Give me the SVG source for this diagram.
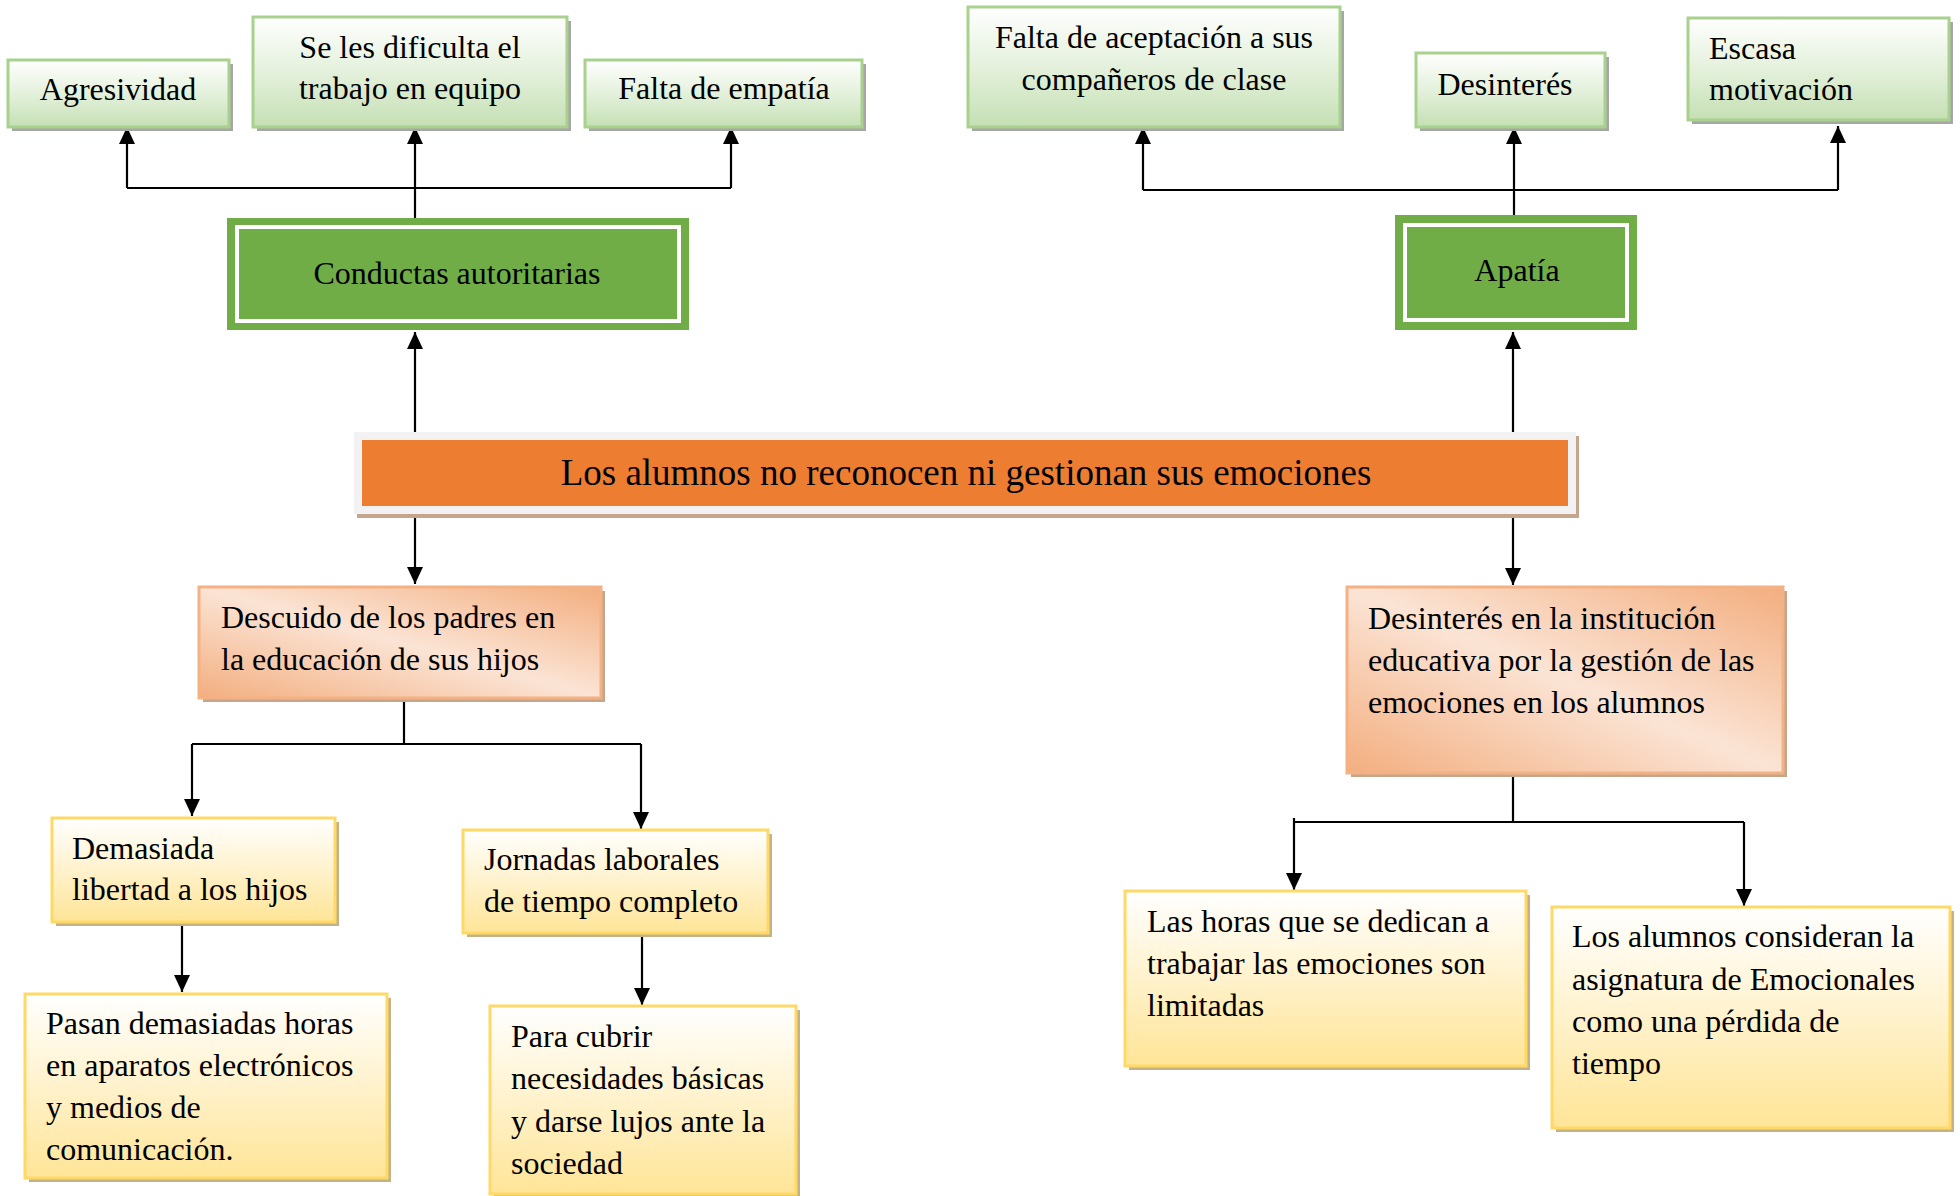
<svg xmlns="http://www.w3.org/2000/svg" width="1960" height="1196" viewBox="0 0 1960 1196">
<defs>
<linearGradient id="gGreen" x1="0" y1="0" x2="0" y2="1">
<stop offset="0" stop-color="#ffffff"/>
<stop offset="0.55" stop-color="#e1efd8"/>
<stop offset="1" stop-color="#c5e0b4"/>
</linearGradient>
<linearGradient id="gYellow" x1="0" y1="0" x2="0" y2="1">
<stop offset="0" stop-color="#ffffff"/>
<stop offset="0.5" stop-color="#fff2cc"/>
<stop offset="1" stop-color="#ffe597"/>
</linearGradient>
<linearGradient id="gPeach" x1="1" y1="0" x2="0" y2="1">
<stop offset="0" stop-color="#f3ae7f"/>
<stop offset="0.5" stop-color="#fbe4d5"/>
<stop offset="1" stop-color="#f3ae7f"/>
</linearGradient>
<marker id="arr" viewBox="0 0 17 16" refX="17" refY="8" markerWidth="17" markerHeight="16" orient="auto" markerUnits="userSpaceOnUse">
<path d="M0,0 L17,8 L0,16 z" fill="#000"/>
</marker>
<style>
.t{font-family:"Liberation Serif","Times New Roman",serif;font-size:32px;fill:#000}
.c{text-anchor:middle}
.big{font-size:37px}
.sg{fill:#a6a6a6}
.sy{fill:#c2b285}
.sp{fill:#c5a68c}
.bg{fill:url(#gGreen);stroke:#a9d18e;stroke-width:3}
.by{fill:url(#gYellow);stroke:#ffd966;stroke-width:3}
.bp{fill:url(#gPeach);stroke:#f4b183;stroke-width:3}
.dk{fill:#70ad47}
.ln{fill:none;stroke:#000;stroke-width:2.2}
.ar{fill:none;stroke:#000;stroke-width:2.2;marker-end:url(#arr)}
</style>
</defs>
<rect width="1960" height="1196" fill="#ffffff"/>

<g id="connectors">
<path class="ln" d="M415,218 V188 M127,188 H731"/>
<path class="ar" d="M127,188 V127"/>
<path class="ar" d="M415,188 V127"/>
<path class="ar" d="M731,188 V127"/>
<path class="ar" d="M415,432 V332"/>
<path class="ar" d="M415,514 V584"/>
<path class="ln" d="M1143,190 H1838"/>
<path class="ar" d="M1514,225 V127"/>
<path class="ar" d="M1143,190 V127"/>
<path class="ar" d="M1838,190 V126"/>
<path class="ar" d="M1513,432 V332"/>
<path class="ar" d="M1513,514 V585"/>
<path class="ln" d="M404,698 V744 M192,744 H641"/>
<path class="ar" d="M192,744 V816"/>
<path class="ar" d="M641,744 V829"/>
<path class="ar" d="M182,921 V992"/>
<path class="ar" d="M642,933 V1005"/>
<path class="ln" d="M1513,772 V822 M1294,822 H1744"/>
<path class="ar" d="M1294,818 V890"/>
<path class="ar" d="M1744,822 V906"/>
</g>

<g id="n-agresividad">
<rect class="sg" x="12" y="64" width="221" height="67"/>
<rect class="bg" x="8" y="60" width="221" height="67"/>
<text class="t c" x="118" y="100">Agresividad</text>
</g>
<g id="n-dificulta">
<rect class="sg" x="257" y="21" width="314" height="110"/>
<rect class="bg" x="253" y="17" width="314" height="110"/>
<text class="t c" x="410" y="58">Se les dificulta el</text>
<text class="t c" x="410" y="99">trabajo en equipo</text>
</g>
<g id="n-empatia">
<rect class="sg" x="589" y="64" width="277" height="67"/>
<rect class="bg" x="585" y="60" width="277" height="67"/>
<text class="t c" x="724" y="99">Falta de empatía</text>
</g>
<g id="n-conductas">
<rect class="dk" x="227" y="218" width="462" height="112"/>
<rect x="237" y="227" width="442" height="94" fill="none" stroke="#ffffff" stroke-width="4"/>
<text class="t c" x="457" y="284">Conductas autoritarias</text>
</g>

<g id="n-aceptacion">
<rect class="sg" x="972" y="11" width="372" height="120"/>
<rect class="bg" x="968" y="7" width="372" height="120"/>
<text class="t c" x="1154" y="48">Falta de aceptación a sus</text>
<text class="t c" x="1154" y="90">compañeros de clase</text>
</g>
<g id="n-desinteres">
<rect class="sg" x="1420" y="57" width="189" height="74"/>
<rect class="bg" x="1416" y="53" width="189" height="74"/>
<text class="t c" x="1505" y="95">Desinterés</text>
</g>
<g id="n-escasa">
<rect class="sg" x="1692" y="22" width="261" height="102"/>
<rect class="bg" x="1688" y="18" width="261" height="102"/>
<text class="t" x="1709" y="59">Escasa</text>
<text class="t" x="1709" y="100">motivación</text>
</g>
<g id="n-apatia">
<rect class="dk" x="1395" y="215" width="242" height="115"/>
<rect x="1405" y="225" width="222" height="95" fill="none" stroke="#ffffff" stroke-width="4"/>
<text class="t c" x="1517" y="281">Apatía</text>
</g>

<g id="n-central">
<rect class="sp" x="357" y="436" width="1222" height="82"/>
<rect x="354" y="432" width="1222" height="82" fill="#f2f2f2"/>
<rect x="362" y="440" width="1206" height="66" fill="#ed7d31"/>
<text class="t c big" x="966" y="485">Los alumnos no reconocen ni gestionan sus emociones</text>
</g>

<g id="n-descuido">
<rect class="sp" x="203" y="591" width="402" height="111"/>
<rect class="bp" x="199" y="587" width="402" height="111"/>
<text class="t" x="221" y="628">Descuido de los padres en</text>
<text class="t" x="221" y="670">la educación de sus hijos</text>
</g>
<g id="n-demasiada">
<rect class="sy" x="56" y="822" width="283" height="104"/>
<rect class="by" x="52" y="818" width="283" height="104"/>
<text class="t" x="72" y="859">Demasiada</text>
<text class="t" x="72" y="900">libertad a los hijos</text>
</g>
<g id="n-pasan">
<rect class="sy" x="29" y="998" width="362" height="184"/>
<rect class="by" x="25" y="994" width="362" height="184"/>
<text class="t" x="46" y="1034">Pasan demasiadas horas</text>
<text class="t" x="46" y="1076">en aparatos electrónicos</text>
<text class="t" x="46" y="1118">y medios de</text>
<text class="t" x="46" y="1160">comunicación.</text>
</g>
<g id="n-jornadas">
<rect class="sy" x="467" y="834" width="305" height="103"/>
<rect class="by" x="463" y="830" width="305" height="103"/>
<text class="t" x="484" y="870">Jornadas laborales</text>
<text class="t" x="484" y="912">de tiempo completo</text>
</g>
<g id="n-para">
<rect class="sy" x="494" y="1010" width="306" height="190"/>
<rect class="by" x="490" y="1006" width="306" height="188"/>
<text class="t" x="511" y="1047">Para cubrir</text>
<text class="t" x="511" y="1089">necesidades básicas</text>
<text class="t" x="511" y="1132">y darse lujos ante la</text>
<text class="t" x="511" y="1174">sociedad</text>
</g>

<g id="n-institucion">
<rect class="sp" x="1351" y="591" width="436" height="186"/>
<rect class="bp" x="1347" y="587" width="436" height="186"/>
<text class="t" x="1368" y="629">Desinterés en la institución</text>
<text class="t" x="1368" y="671">educativa por la gestión de las</text>
<text class="t" x="1368" y="713">emociones en los alumnos</text>
</g>
<g id="n-horas">
<rect class="sy" x="1129" y="895" width="401" height="175"/>
<rect class="by" x="1125" y="891" width="401" height="175"/>
<text class="t" x="1147" y="932">Las horas que se dedican a</text>
<text class="t" x="1147" y="974">trabajar las emociones son</text>
<text class="t" x="1147" y="1016">limitadas</text>
</g>
<g id="n-consideran">
<rect class="sy" x="1556" y="911" width="398" height="221"/>
<rect class="by" x="1552" y="907" width="398" height="221"/>
<text class="t" x="1572" y="947">Los alumnos consideran la</text>
<text class="t" x="1572" y="990">asignatura de Emocionales</text>
<text class="t" x="1572" y="1032">como una pérdida de</text>
<text class="t" x="1572" y="1074">tiempo</text>
</g>
</svg>
